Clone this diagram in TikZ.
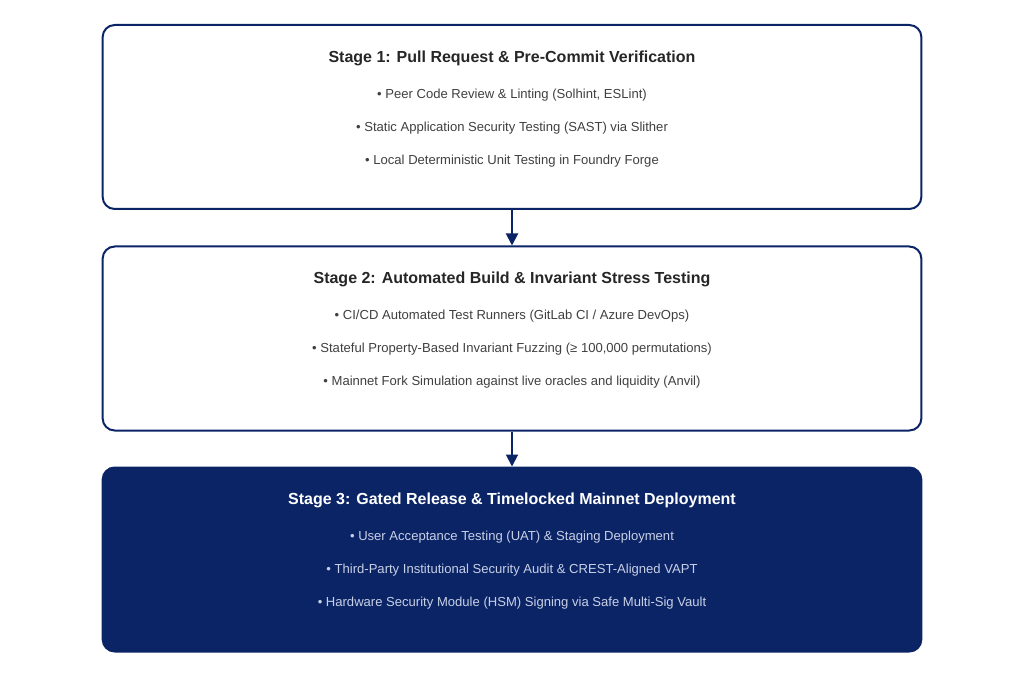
\documentclass[tikz,border=0pt]{standalone}
\usepackage{fontspec}
\setmainfont{Liberation Sans}
\usetikzlibrary{positioning,arrows.meta}
\definecolor{navy}{HTML}{0B2466}
\definecolor{paleblue}{HTML}{C8D0E6}

\begin{document}
\begin{tikzpicture}[x=0.75pt,y=-0.75pt,
    node distance= 8mm and 20mm,
    stagebox/.style={rectangle, rounded corners=9pt, draw=navy, line width=1.5pt, minimum width=614pt, minimum height=138pt, fill=white},
    titlenode/.style={font=\bfseries\fontsize{12}{14}\selectfont, text=black!85},
    itemnode/.style={font=\fontsize{9.8}{12}\selectfont, text=black!75},
    flow/.style={-{Triangle[length=9pt,width=9pt]}, draw=navy, line width=1.5pt},
]
\useasboundingbox (0,0) rectangle (1024,677);
%Boxes
\node[stagebox] (stage1) at (512,117) {};
\node[stagebox] (stage2) at (512,338.5) {};
\node[stagebox, fill=navy] (stage3) at (512,559.5) {};

%Texts
\node[titlenode] (title1) at (512,58) {Stage 1: Pull Request \& Pre-Commit Verification};
\node[itemnode] (item1a) at (512,95) {• Peer Code Review \& Linting (Solhint, ESLint)};
\node[itemnode] (item1b) at (512,128) {• Static Application Security Testing (SAST) via Slither};
\node[itemnode] (item1c) at (512,161) {• Local Deterministic Unit Testing in Foundry Forge};

\node[titlenode] (title2) at (512,279) {Stage 2: Automated Build \& Invariant Stress Testing};
\node[itemnode] (item2a) at (512,316) {• CI/CD Automated Test Runners (GitLab CI / Azure DevOps)};
\node[itemnode] (item2b) at (512,349) {• Stateful Property-Based Invariant Fuzzing (≥ 100,000 permutations)};
\node[itemnode] (item2c) at (512,382) {• Mainnet Fork Simulation against live oracles and liquidity (Anvil)};

\node[titlenode, text=white] (title3) at (512,500) {Stage 3: Gated Release \& Timelocked Mainnet Deployment};
\node[itemnode, text=paleblue] (item3a) at (512,537) {• User Acceptance Testing (UAT) \& Staging Deployment};
\node[itemnode, text=paleblue] (item3b) at (512,570) {• Third-Party Institutional Security Audit \& CREST-Aligned VAPT};
\node[itemnode, text=paleblue] (item3c) at (512,603) {• Hardware Security Module (HSM) Signing via Safe Multi-Sig Vault};

%Arrows
\draw[flow] (stage1.south) -- (stage2.north);
\draw[flow] (stage2.south) -- (stage3.north);
\end{tikzpicture}
\end{document}
